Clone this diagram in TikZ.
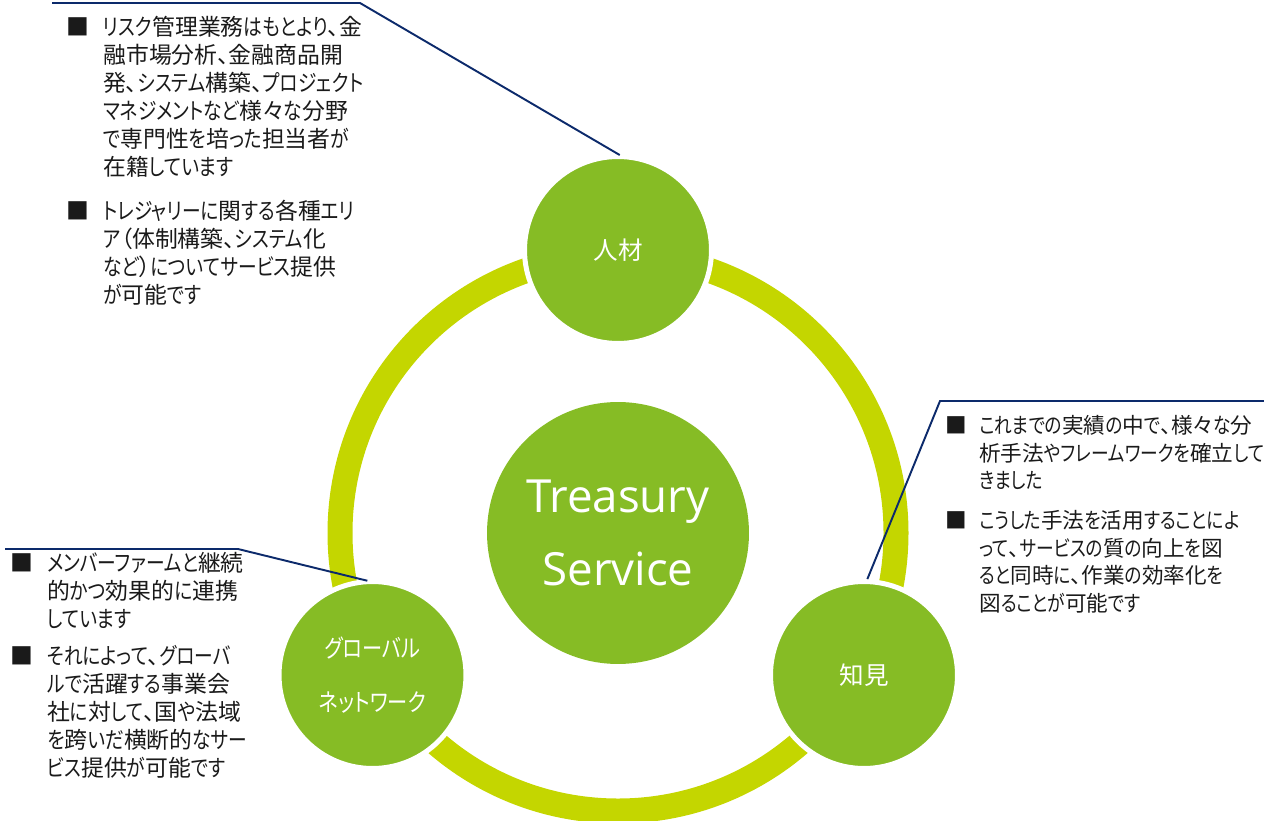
\documentclass[tikz,border=0pt]{standalone}
\usepackage{fontspec}
\setmainfont{Noto Sans CJK JP}[RawFeature=+palt]
\newfontfamily\enfont{Open Sans}
\newfontfamily\kanjifont{Noto Sans CJK JP}[RawFeature=+palt]
\newfontfamily\kanafont{Noto Sans CJK JP}[RawFeature=+palt, FakeStretch=0.82]
% narrower kana, as in the original
\XeTeXinterchartokenstate=1
\chardef\kanaclass=250
\newcount\kanacode
\kanacode="3041
\loop
	\XeTeXcharclass\kanacode=\kanaclass
	\ifnum\kanacode<"30FF \advance\kanacode by 1
\repeat
\XeTeXinterchartoks 0 250 {\kanafont}
\XeTeXinterchartoks 1 250 {\kanafont}
\XeTeXinterchartoks 2 250 {\kanafont}
\XeTeXinterchartoks 3 250 {\kanafont}
\XeTeXinterchartoks 4095 250 {\kanafont}
\XeTeXinterchartoks 250 0 {\kanjifont}
\XeTeXinterchartoks 250 1 {\kanjifont}
\XeTeXinterchartoks 250 2 {\kanjifont}
\XeTeXinterchartoks 250 3 {\kanjifont}
\usetikzlibrary{positioning}
\definecolor{leafgreen}{HTML}{86BC25}
\definecolor{ringlime}{HTML}{C4D600}
\definecolor{calloutblue}{HTML}{0C2A6B}
\definecolor{notegray}{HTML}{1A1A1A}
\tikzset{ring/.style={draw=ringlime, line width=0.5cm},
	core/.style={circle, fill=leafgreen, minimum size=5.24cm, inner sep=0pt,
		text=white, align=center, font=\enfont\fontsize{26}{42}\selectfont},
	pillar/.style={circle, fill=leafgreen, draw=white, line width=0.1cm,
		minimum size=3.74cm, inner sep=0pt, text=white, align=center,
		font=\fontsize{14}{31}\selectfont},
	note/.style={anchor=north west, inner sep=0pt, text=notegray,
		font=\fontsize{13}{15.9}\selectfont},
	smallnote/.style={note, font=\fontsize{12.3}{15.65}\selectfont},
	callout/.style={draw=calloutblue, line width=1.1pt},
	}

\begin{document}
\begin{tikzpicture}[x=0.02cm,y=-0.02cm]
	\useasboundingbox (0,0) rectangle (1264,821);
	% ring behind the three pillars
	\node[core] (core) at (618,533) {Treasury\\Service};
	\draw[ring] (core.center) circle[radius=278];
	\node[pillar] (hito) at (618,250) {人材};
	\node[pillar] (chiken) at (864,675) {知見};
	\node[pillar] (global) at (372.5,675) {グローバル\\ネットワーク};

	% notes, top left
	\node[note] (hitoA) at (66,16) {\begin{tabular}{@{}p{0.74cm}@{}l@{}}
		■ & リスク管理業務はもとより、金\\
		& 融市場分析、金融商品開\\
		& 発、システム構築、プロジェクト\\
		& マネジメントなど様々な分野\\
		& で専門性を培った担当者が\\
		& 在籍しています
		\end{tabular}};
	\node[note, below=0.30cm of hitoA.south west, anchor=north west] (hitoB) {\begin{tabular}{@{}p{0.74cm}@{}l@{}}
		■ & トレジャリーに関する各種エリ\\
		& ア（体制構築、システム化\\
		& など）についてサービス提供\\
		& が可能です
		\end{tabular}};%hito

	% notes, right
	\node[smallnote] (chikenA) at (945,414) {\begin{tabular}{@{}p{0.68cm}@{}l@{}}
		■ & これまでの実績の中で、様々な分\\
		& 析手法やフレームワークを確立して\\
		& きました
		\end{tabular}};
	\node[smallnote, below=0.24cm of chikenA.south west, anchor=north west] (chikenB) {\begin{tabular}{@{}p{0.68cm}@{}l@{}}
		■ & こうした手法を活用することによ\\
		& って、サービスの質の向上を図\\
		& ると同時に、作業の効率化を\\
		& 図ることが可能です
		\end{tabular}};%chiken

	% notes, bottom left
	\node[note] (globalA) at (10,552) {\begin{tabular}{@{}p{0.74cm}@{}l@{}}
		■ & メンバーファームと継続\\
		& 的かつ効果的に連携\\
		& しています
		\end{tabular}};
	\node[note, below=0.16cm of globalA.south west, anchor=north west] (globalB) {\begin{tabular}{@{}p{0.74cm}@{}l@{}}
		■ & それによって、グローバ\\
		& ルで活躍する事業会\\
		& 社に対して、国や法域\\
		& を跨いだ横断的なサー\\
		& ビス提供が可能です
		\end{tabular}};%global

	% callout lines
	\coordinate (hitoL) at (52,3);
	\coordinate (hitoK) at (360,3);
	\coordinate (chikenR) at (1264,401);
	\coordinate (chikenK) at (940,401);
	\coordinate (globalL) at (5,549);
	\coordinate (globalK) at (238,549);
	\draw[callout, shorten >=-0.04cm] (hitoL) -- (hitoK) -- (hito.north);
	\draw[callout] (chikenR) -- (chikenK) -- (chiken.88);
	\draw[callout, shorten >=-0.1cm] (globalL) -- (globalK) -- (global.96);
\end{tikzpicture}
\end{document}
